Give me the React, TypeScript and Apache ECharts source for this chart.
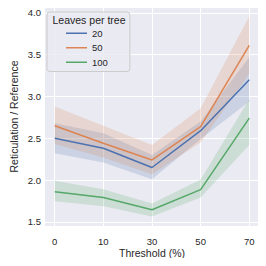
import React, { useEffect, useRef } from 'react';
import * as echarts from 'echarts';

const thresholds = ['0', '10', '30', '50', '70'];
const groupNames = ['20', '50', '100'];
const mean20 = [2.5, 2.38, 2.15, 2.59, 3.2];
const lo20 = [2.32, 2.21, 2.01, 2.49, 2.94];
const hi20 = [2.68, 2.56, 2.3, 2.7, 3.47];
const mean50 = [2.65, 2.44, 2.24, 2.64, 3.61];
const lo50 = [2.43, 2.27, 2.07, 2.45, 3.27];
const hi50 = [2.88, 2.65, 2.42, 2.86, 3.96];
const mean100 = [1.86, 1.79, 1.645, 1.885, 2.74];
const lo100 = [1.745, 1.685, 1.565, 1.79, 2.42];
const hi100 = [1.99, 1.89, 1.72, 2.005, 2.97];
const yTicks = [1.5, 2.0, 2.5, 3.0, 3.5, 4.0];

const colors = ['#4C72B0', '#DD8452', '#55A868'];
const bandColors = ['rgba(76,114,176,0.2)', 'rgba(221,132,82,0.2)', 'rgba(85,168,104,0.2)'];
const FONT = 'Liberation Sans, Arial, sans-serif';
const TXT = '#262626';

export default function App() {
  const ref = useRef<HTMLDivElement>(null);
  useEffect(() => {
    if (!ref.current) return;
    const chart = echarts.init(ref.current, null, { renderer: 'svg' });
    const means = [mean20, mean50, mean100];
    const los = [lo20, lo50, lo100];
    const his = [hi20, hi50, hi100];
    const xIdx = thresholds.map((_, i) => i);

    const bandSeries = groupNames.map((g, k) => ({
      type: 'custom',
      name: 'band' + g,
      silent: true,
      z: 1,
      data: los[k].map((v, i) => [i, v, his[k][i]]),
      encode: { x: 0, y: [1, 2] },
      renderItem: (params: any, api: any) => {
        if (params.dataIndex !== 0) return null;
        const pts: number[][] = [];
        for (let i = 0; i < his[k].length; i++) pts.push(api.coord([i, his[k][i]]));
        for (let i = los[k].length - 1; i >= 0; i--) pts.push(api.coord([i, los[k][i]]));
        return {
          type: 'polygon',
          shape: { points: pts },
          style: { fill: bandColors[k], stroke: 'none' },
        };
      },
    }));

    const lineSeries = groupNames.map((g, k) => ({
      type: 'line',
      name: g,
      z: 3,
      color: colors[k],
      symbol: 'none',
      lineStyle: { color: colors[k], width: 1.5 },
      data: means[k].map((v, i) => [i, v]),
    }));

    chart.setOption({
      animation: false,
      textStyle: { fontFamily: FONT },
      grid: {
        left: 43,
        right: 7,
        top: 7,
        bottom: 40,
        show: true,
        backgroundColor: '#EAEAF2',
        borderWidth: 0,
      },
      xAxis: {
        type: 'value',
        min: -0.2,
        max: 4.2,
        name: 'Threshold (%)',
        nameLocation: 'middle',
        nameGap: 21,
        nameMoveOverlap: false,
        nameTextStyle: { fontSize: 10.5, color: TXT, fontFamily: FONT },
        axisLine: { show: false },
        axisTick: { show: false, customValues: xIdx },
        axisLabel: {
          customValues: xIdx,
          formatter: (v: number) => thresholds[Math.round(v)] ?? '',
          fontSize: 9.5,
          color: TXT,
          margin: 10,
          fontFamily: FONT,
        },
        splitLine: { show: true, lineStyle: { color: '#ffffff', width: 1 } },
      },
      yAxis: {
        type: 'value',
        min: 1.45,
        max: 4.07,
        name: 'Reticulation / Reference',
        nameLocation: 'middle',
        nameGap: 26,
        nameMoveOverlap: false,
        nameTextStyle: { fontSize: 10.5, color: TXT, fontFamily: FONT },
        axisLine: { show: false },
        axisTick: { show: false, customValues: yTicks },
        axisLabel: {
          customValues: yTicks,
          formatter: (v: number) => v.toFixed(1),
          fontSize: 9.5,
          color: TXT,
          margin: 4,
          fontFamily: FONT,
        },
        splitLine: { show: true, lineStyle: { color: '#ffffff', width: 1 } },
      },
      legend: {
        data: groupNames,
        orient: 'vertical',
        left: 47,
        top: 12,
        padding: [14, 22, 2, 19],
        itemGap: 0,
        itemWidth: 21,
        itemHeight: 1.5,
        icon: 'rect',
        backgroundColor: 'rgba(234,234,242,0.8)',
        borderColor: '#CCCCCC',
        borderWidth: 1,
        borderRadius: 3,
        textStyle: { fontSize: 9.5, color: TXT, fontFamily: FONT, lineHeight: 14.5 },
        z: 10,
      },
      graphic: [
        {
          type: 'text',
          x: 89,
          y: 20,
          z: 100,
          style: {
            text: 'Leaves per tree',
            fontSize: 10.5,
            fontFamily: FONT,
            fill: TXT,
            textAlign: 'center',
            textVerticalAlign: 'middle',
          },
        },
      ],
      series: [...bandSeries, ...lineSeries],
    } as any);
    return () => chart.dispose();
  }, []);
  return <div ref={ref} style={{ width: 266, height: 266, margin: -8 }} />;
}
